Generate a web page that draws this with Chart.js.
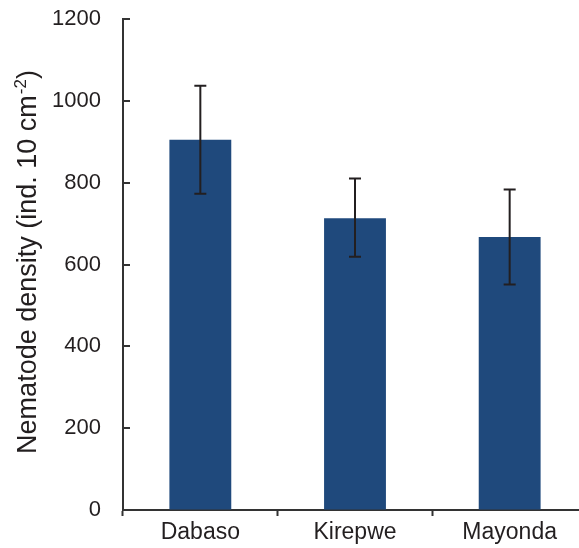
<!DOCTYPE html>
<html>
<head>
<meta charset="utf-8">
<script src="https://cdn.jsdelivr.net/npm/chart.js@4/dist/chart.umd.min.js"></script>
<style>
  html, body { margin: 0; padding: 0; background: #ffffff; overflow: hidden; }
  #wrap { width: 579px; height: 548px; overflow: hidden; }
  canvas { display: block; }
</style>
</head>
<body>
<div id="wrap"><canvas id="chart" width="587" height="548"></canvas></div>
<script>
// Nematode density by site, mean with lower/upper error limits
const sites = ['Dabaso', 'Kirepwe', 'Mayonda'];
const density = [905, 713, 667];
const errLow = [773, 619, 551];
const errHigh = [1037, 810, 783];
const yTicks = [0, 200, 400, 600, 800, 1000, 1200];

const FONT = "'Liberation Sans', Arial, Helvetica, sans-serif";
const INK = '#231f20';
const AXIS = '#333333';

// error bars with caps, drawn through the y scale
const errorBars = {
  id: 'errorBars',
  afterDatasetsDraw(chart) {
    const y = chart.scales.y;
    const meta = chart.getDatasetMeta(0);
    const ctx = chart.ctx;
    ctx.save();
    ctx.strokeStyle = INK;
    ctx.lineWidth = 2;
    meta.data.forEach((bar, i) => {
      const x = bar.x;
      const top = y.getPixelForValue(errHigh[i]);
      const bot = y.getPixelForValue(errLow[i]);
      const cap = 6;
      ctx.beginPath();
      ctx.moveTo(x, top); ctx.lineTo(x, bot);
      ctx.moveTo(x - cap, top); ctx.lineTo(x + cap, top);
      ctx.moveTo(x - cap, bot); ctx.lineTo(x + cap, bot);
      ctx.stroke();
    });
    ctx.restore();
  }
};

// inward tick marks on the value axis and the rotated axis title
const axisDecor = {
  id: 'axisDecor',
  afterDraw(chart) {
    const ctx = chart.ctx;
    const y = chart.scales.y;
    const left = chart.chartArea.left;
    ctx.save();
    ctx.strokeStyle = AXIS;
    ctx.lineWidth = 2;
    ctx.beginPath();
    yTicks.forEach(v => {
      const py = Math.round(y.getPixelForValue(v));
      ctx.moveTo(left, py);
      ctx.lineTo(left + 7, py);
    });
    ctx.stroke();
    ctx.restore();

    // title: "Nematode density (ind. 10 cm-2)" with superscript
    const main = 'Nematode density (ind. 10 cm';
    const sup = '-2';
    const tail = ')';
    const size = 27;
    const supSize = 17;
    ctx.save();
    ctx.fillStyle = INK;
    ctx.textBaseline = 'alphabetic';
    ctx.font = size + 'px ' + FONT;
    const wMain = ctx.measureText(main).width;
    const wTail = ctx.measureText(tail).width;
    ctx.font = supSize + 'px ' + FONT;
    const wSup = ctx.measureText(sup).width;
    const total = wMain + wSup + 1 + wTail;
    const cx = 36;
    const cy = 262;
    ctx.translate(cx, cy);
    ctx.rotate(-Math.PI / 2);
    let x0 = -total / 2;
    ctx.font = size + 'px ' + FONT;
    ctx.fillText(main, x0, 0);
    x0 += wMain + 1;
    ctx.font = supSize + 'px ' + FONT;
    ctx.fillText(sup, x0, -10);
    x0 += wSup;
    ctx.font = size + 'px ' + FONT;
    ctx.fillText(tail, x0, 0);
    ctx.restore();
  }
};

new Chart(document.getElementById('chart'), {
  type: 'bar',
  data: {
    labels: sites,
    datasets: [{
      data: density,
      backgroundColor: '#1f497c',
      borderWidth: 0,
      barPercentage: 0.8,
      categoryPercentage: 0.5
    }]
  },
  options: {
    responsive: false,
    animation: false,
    devicePixelRatio: 1,
    layout: { autoPadding: false, padding: { top: 19, right: 0, bottom: 0, left: 0 } },
    plugins: { legend: { display: false }, tooltip: { enabled: false } },
    scales: {
      x: {
        offset: true,
        grid: {
          offset: true,
          drawOnChartArea: false,
          drawTicks: true,
          tickLength: 6,
          tickWidth: 2,
          color: AXIS
        },
        border: { display: true, color: AXIS, width: 2 },
        ticks: {
          color: INK,
          padding: 3,
          font: { family: FONT, size: 23 }
        },
        afterFit(scale) {
          scale.height = 38;
          scale.paddingLeft = 0; scale.paddingRight = 0;
          scale.paddingTop = 0; scale.paddingBottom = 0;
        }
      },
      y: {
        min: 0,
        max: 1200,
        afterBuildTicks(scale) { scale.ticks = yTicks.map(v => ({ value: v })); },
        grid: { display: true, drawOnChartArea: false, drawTicks: false },
        border: { display: true, color: AXIS, width: 2 },
        ticks: {
          color: INK,
          padding: 22,
          font: { family: FONT, size: 22 },
          callback: (v) => String(v)
        },
        afterFit(scale) {
          scale.width = 123;
          scale.paddingTop = 0; scale.paddingBottom = 0;
          scale.paddingLeft = 0; scale.paddingRight = 0;
        }
      }
    }
  },
  plugins: [errorBars, axisDecor]
});
</script>
</body>
</html>
